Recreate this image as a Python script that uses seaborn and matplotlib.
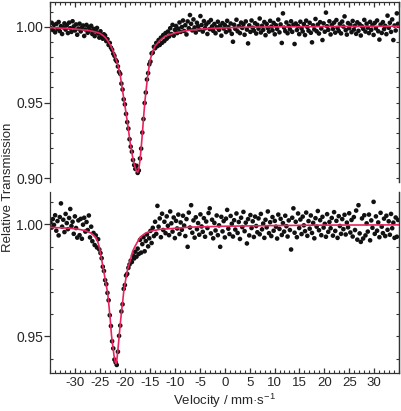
import numpy as np
import pandas as pd
import matplotlib
matplotlib.use("Agg")
import matplotlib.pyplot as plt
import seaborn as sns
from matplotlib.ticker import MultipleLocator, FixedLocator, FormatStrFormatter, NullFormatter

# ---------------- data ----------------
# channel velocities (mm/s), equally spaced channels
n_channels = 300
v_start, v_end = -35.0, 34.8

# top spectrum: measured relative transmission per channel
top_T = [
    0.9992, 1.0026, 0.9978, 1.0012, 0.9963, 1.0018, 0.9985, 1.0031, 0.9971, 1.0004,
    0.9952, 0.9996, 1.0022, 0.9981, 1.0009, 0.9958, 1.0027, 0.9990, 0.9966, 1.0036,
    1.0002, 0.9975, 1.0015, 0.9947, 0.9988, 1.0020, 0.9969, 0.9994, 1.0008, 0.9939,
    0.9982, 1.0012, 0.9960, 0.9996, 0.9975, 1.0006, 0.9952, 0.9986, 0.9938, 0.9969,
    0.9992, 0.9955, 0.9928, 0.9970, 0.9946, 0.9921, 0.9950,
    0.9942, 0.9905, 0.9918, 0.9880, 0.9893, 0.9862, 0.9848, 0.9822, 0.9808, 0.9782,
    0.9771, 0.9738, 0.9702, 0.9689, 0.9625, 0.9586, 0.9521, 0.9488, 0.9425, 0.9371,
    0.9328, 0.9258, 0.9209, 0.9176, 0.9121, 0.9088, 0.9062, 0.9083, 0.9036, 0.9052,
    0.9131, 0.9196, 0.9302, 0.9391, 0.9497, 0.9566, 0.9652, 0.9694, 0.9752, 0.9770,
    0.9824, 0.9829, 0.9868, 0.9858, 0.9893, 0.9872, 0.9912, 0.9880, 0.9928, 0.9894,
    0.9945, 0.9906, 0.9958, 0.9921,
    0.9968, 0.9935, 0.9990, 0.9952, 1.0012, 0.9941, 0.9979, 1.0005, 0.9958, 0.9987,
    1.0028, 0.9966, 0.9998, 1.0041, 0.9972, 1.0010, 0.9949, 1.0035, 0.9990, 1.0077,
    1.0019, 0.9976, 1.0048, 0.9995, 0.9962, 1.0026, 1.0003, 0.9981, 1.0070, 1.0011,
    0.9968, 1.0037, 0.9990, 1.0015, 0.9952, 1.0029, 0.9984, 1.0044, 1.0002, 0.9973,
    1.0018, 0.9957, 0.9996, 1.0033, 0.9979, 1.0008, 0.9941, 1.0024, 0.9988, 1.0012,
    0.9965, 1.0039, 0.9997, 0.9975, 1.0021, 0.9953, 0.9901, 1.0013, 0.9986, 1.0046,
    0.9970, 1.0004, 0.9958, 1.0027, 0.9992, 1.0016, 0.9947, 1.0035, 0.9981, 0.9890,
    1.0009, 0.9966, 1.0041, 0.9993, 0.9974, 1.0023, 0.9955, 1.0012, 0.9987, 1.0054,
    0.9962, 1.0006, 0.9979, 1.0031, 0.9944, 1.0018, 0.9991, 0.9968, 1.0039, 1.0001,
    0.9976, 1.0025, 0.9950, 1.0010, 0.9985, 1.0047, 0.9963, 1.0015, 0.9893, 1.0088,
    0.9994, 0.9971, 1.0028, 0.9957, 1.0006, 0.9983, 1.0036, 0.9966, 1.0013, 0.9886,
    1.0021, 0.9978, 1.0004, 0.9951, 1.0033, 0.9990, 0.9969, 1.0017, 0.9945, 1.0040,
    0.9998, 0.9974, 1.0026, 0.9960, 0.9897, 1.0009, 0.9982, 1.0051, 0.9970, 1.0014,
    0.9955, 1.0030, 0.9988, 0.9912, 1.0022, 0.9967, 1.0093, 1.0003, 0.9979, 1.0036,
    0.9949, 1.0011, 0.9985, 1.0027, 0.9961, 1.0044, 0.9992, 0.9972, 1.0019, 0.9956,
    1.0034, 1.0001, 1.0068, 0.9977, 0.9948, 1.0024, 0.9990, 1.0012, 0.9964, 1.0038,
    0.9981, 1.0007, 0.9953, 1.0029, 0.9973, 1.0016, 0.9942, 1.0003, 0.9986, 1.0045,
    0.9968, 1.0020, 0.9994, 0.9958, 1.0032, 0.9979, 1.0010, 0.9946, 1.0025, 0.9989,
    1.0041, 0.9970, 0.9915, 1.0014, 0.9959, 1.0030, 0.9984, 1.0006, 0.9951, 1.0073,
    0.9993, 1.0026, 0.9966, 1.0048, 0.9912, 1.0008, 0.9975, 1.0088, 1.0019,
]

# bottom spectrum: measured relative transmission per channel
bottom_T = [
    1.0008, 0.9986, 1.0024, 0.9998, 1.0041, 0.9972, 1.0015, 0.9951, 1.0033, 1.0094,
    0.9990, 1.0021, 0.9966, 1.0047, 1.0006, 0.9979, 1.0029, 1.0069, 0.9993, 1.0012,
    0.9958, 1.0036, 0.9984, 0.9941, 1.0018, 0.9952, 1.0025, 0.9936, 0.9999, 1.0030,
    0.9968, 1.0011, 0.9975, 1.0040,
    0.9942, 0.9990, 0.9925, 0.9962, 0.9908, 0.9951, 0.9897, 0.9934, 0.9888, 0.9872,
    0.9849, 0.9811, 0.9792, 0.9751, 0.9733, 0.9694, 0.9661, 0.9594, 0.9546, 0.9478,
    0.9446, 0.9396, 0.9384, 0.9372, 0.9431, 0.9502, 0.9548, 0.9611, 0.9643, 0.9712,
    0.9729, 0.9772, 0.9779, 0.9806, 0.9821, 0.9838, 0.9832, 0.9861, 0.9848, 0.9878,
    0.9856, 0.9892, 0.9868, 0.9931, 0.9874, 0.9912, 0.9943, 0.9880, 0.9926, 0.9955,
    0.9902, 0.9938, 0.9971, 0.9917, 0.9985, 0.9948, 1.0012,
    0.9958, 1.0083, 0.9990, 1.0027, 0.9943, 1.0048, 0.9975, 1.0012, 0.9961, 1.0036,
    0.9994, 0.9952, 1.0058, 1.0005, 0.9968, 1.0031, 0.9939, 1.0016, 0.9982, 1.0044,
    0.9957, 1.0009, 0.9976, 1.0039, 0.9995, 0.9948, 1.0024, 0.9900, 1.0053, 0.9986,
    1.0086, 0.9963, 1.0018, 0.9941, 1.0032, 0.9979, 1.0006, 0.9954, 1.0045, 0.9991,
    0.9967, 1.0028, 0.9945, 1.0013, 0.9984, 1.0051, 1.0072, 0.9960, 1.0021, 0.9938,
    1.0007, 0.9973, 1.0040, 0.9952, 0.9996, 0.9900, 1.0034, 0.9969, 1.0015, 0.9942,
    1.0026, 1.0065, 0.9981, 0.9957, 1.0038, 1.0003, 0.9946, 1.0019, 0.9977, 1.0049,
    0.9962, 1.0011, 0.9935, 1.0030, 0.9988, 1.0056, 0.9970, 1.0008, 0.9915, 1.0024,
    0.9951, 1.0042, 0.9984, 1.0014, 0.9944, 1.0035, 0.9993, 0.9965, 1.0027, 0.9956,
    1.0047, 0.9978, 1.0004, 0.9940, 1.0021, 0.9987, 1.0058, 0.9961, 1.0010, 0.9948,
    1.0033, 0.9972, 1.0016, 0.9990, 0.9937, 1.0044, 0.9980, 1.0025, 0.9953, 1.0006,
    0.9968, 1.0039, 0.9992, 0.9946, 1.0018, 0.9975, 0.9888, 1.0030, 1.0072, 0.9963,
    1.0012, 0.9943, 1.0049, 0.9984, 1.0022, 0.9957, 1.0035, 0.9996, 0.9970, 1.0053,
    0.9949, 1.0015, 0.9981, 1.0040, 0.9962, 1.0007, 0.9938, 1.0028, 0.9990, 1.0060,
    0.9974, 1.0019, 0.9952, 1.0034, 0.9986, 1.0003, 0.9945, 1.0046, 0.9967, 1.0011,
    0.9983, 1.0029, 0.9950, 1.0055, 0.9971, 1.0016, 0.9940, 1.0037, 0.9993, 0.9958,
    1.0024, 0.9979, 1.0043, 0.9955, 1.0008, 0.9987, 1.0050, 0.9964, 1.0020, 0.9946,
    1.0033, 0.9975, 1.0062, 0.9932, 1.0086, 0.9960, 0.9922, 1.0027, 0.9937, 1.0041,
    0.9951, 1.0005, 0.9968, 1.0044, 0.9929, 1.0018, 0.9985, 1.0101, 0.9958, 1.0036,
    0.9972, 1.0009, 0.9943, 1.0052, 0.9990, 0.9961, 1.0026, 0.9948, 1.0039, 0.9976,
    1.0014, 0.9954, 1.0047, 0.9983, 1.0008, 0.9940, 1.0031, 0.9945, 1.0020,
]

# fitted curves
top_fit_v = [-35.0, -32.0, -30.0, -28.0, -27.0, -26.0, -25.0, -24.5, -24.0, -23.5,
             -23.0, -22.5, -22.0, -21.5, -21.0, -20.5, -20.0, -19.5, -19.0, -18.5,
             -18.25, -18.0, -17.75, -17.5, -17.25, -17.0, -16.75, -16.5, -16.25, -16.0,
             -15.5, -15.0, -14.5, -14.0, -13.0, -12.0, -10.0, -8.0, -5.0, -2.0,
             3.0, 10.0, 20.0, 35.0]
top_fit_T = [0.9994, 0.9989, 0.9984, 0.9978, 0.9973, 0.9966, 0.9955, 0.9943, 0.9929, 0.9907,
             0.9880, 0.9845, 0.9800, 0.9752, 0.9682, 0.9573, 0.9468, 0.9358, 0.9235, 0.9140,
             0.9102, 0.9072, 0.9050, 0.9040, 0.9062, 0.9128, 0.9215, 0.9315, 0.9425, 0.9520,
             0.9670, 0.9778, 0.9836, 0.9872, 0.9911, 0.9937, 0.9959, 0.9973, 0.9984, 0.9990,
             0.9996, 0.9999, 1.0001, 1.0003]

bottom_fit_v = [-35.0, -31.0, -29.0, -28.0, -27.0, -26.5, -26.0, -25.5, -25.25, -25.0,
                -24.75, -24.5, -24.25, -24.0, -23.75, -23.5, -23.25, -23.0, -22.75, -22.5,
                -22.25, -22.0, -21.85, -21.7, -21.5, -21.25, -21.0, -20.75, -20.5, -20.25,
                -20.0, -19.75, -19.5, -19.0, -18.5, -18.0, -17.0, -16.0, -15.0, -13.0,
                -11.0, -7.0, 0.0, 10.0, 20.0, 35.0]
bottom_fit_T = [0.9987, 0.9983, 0.9977, 0.9972, 0.9963, 0.9955, 0.9944, 0.9922, 0.9903, 0.9875,
                0.9846, 0.9815, 0.9785, 0.9752, 0.9722, 0.9690, 0.9635, 0.9575, 0.9505, 0.9460,
                0.9415, 0.9385, 0.9378, 0.9388, 0.9430, 0.9490, 0.9552, 0.9607, 0.9655, 0.9708,
                0.9740, 0.9772, 0.9800, 0.9838, 0.9880, 0.9903, 0.9943, 0.9960, 0.9970, 0.9978,
                0.9981, 0.9988, 0.9992, 0.9995, 0.9997, 0.9998]

top_yticks = [0.90, 0.95, 1.00]
bottom_yticks = [0.95, 1.00]
xtick_step = 5

# ---------------- styling ----------------
sns.set_style("ticks")
plt.rcParams["font.family"] = ["Liberation Sans", "DejaVu Sans"]
plt.rcParams["mathtext.fontset"] = "custom"
plt.rcParams["mathtext.rm"] = "Liberation Sans"
plt.rcParams["mathtext.it"] = "Liberation Sans:italic"
plt.rcParams["axes.unicode_minus"] = False

FS = 10
FS_X = 9.5
DOT = "#111111"
LINE = "#e8245e"
SPINE = "#333333"

velocity = np.linspace(v_start, v_end, n_channels)
df_top = pd.DataFrame({"v": velocity, "T": top_T})
df_bot = pd.DataFrame({"v": velocity, "T": bottom_T})
fit_top = pd.DataFrame({"v": top_fit_v, "T": top_fit_T})
fit_bot = pd.DataFrame({"v": bottom_fit_v, "T": bottom_fit_T})

W, H = 402, 411
fig = plt.figure(figsize=(W / 100, H / 100), dpi=100)
ax_top = fig.add_axes([50 / W, 1 - 182 / H, 349 / W, 180 / H])
ax_bot = fig.add_axes([50 / W, 1 - 373 / H, 349 / W, 181 / H])

panels = [
    (ax_top, df_top, fit_top, (0.8976, 1.0163), top_yticks),
    (ax_bot, df_bot, fit_bot, (0.9336, 1.0145), bottom_yticks),
]

for ax, df, fit, ylim, yt in panels:
    sns.scatterplot(data=df, x="v", y="T", ax=ax, color=DOT, s=11, linewidth=0,
                    edgecolor="none", zorder=2, legend=False)
    sns.lineplot(data=fit, x="v", y="T", ax=ax, color=LINE, linewidth=1.2,
                 zorder=3, sort=False, estimator=None)
    ax.set_xlim(-35.1, 35.0)
    ax.set_ylim(*ylim)
    ax.set_xlabel("")
    ax.set_ylabel("")
    for s in ax.spines.values():
        s.set_color(SPINE)
        s.set_linewidth(0.9)
    ax.xaxis.set_major_locator(MultipleLocator(xtick_step))
    ax.xaxis.set_minor_locator(MultipleLocator(1))
    ax.yaxis.set_major_locator(FixedLocator(yt))
    ax.yaxis.set_minor_locator(MultipleLocator(0.01))
    ax.yaxis.set_major_formatter(FormatStrFormatter("%.2f"))
    ax.tick_params(axis="y", which="major", direction="out", length=4, width=0.9,
                   color=SPINE, labelsize=FS, pad=1, right=False)
    ax.tick_params(axis="y", which="minor", direction="in", length=2.5, width=0.8,
                   color=SPINE, right=False)
    # right-hand inward ticks at every 0.01
    sec = ax.secondary_yaxis("right")
    sec.yaxis.set_major_locator(MultipleLocator(0.01))
    sec.yaxis.set_major_formatter(NullFormatter())
    sec.tick_params(axis="y", which="major", direction="in", length=2.5, width=0.8, color=SPINE)
    sec.spines["right"].set_color(SPINE)
    sec.spines["right"].set_linewidth(0.9)

# top panel: open bottom, ticks along top
ax_top.spines["bottom"].set_visible(False)
ax_top.tick_params(axis="x", which="both", bottom=False, top=True, labelbottom=False,
                   direction="in", color=SPINE)
ax_top.tick_params(axis="x", which="major", length=3.5, width=0.9)
ax_top.tick_params(axis="x", which="minor", length=2, width=0.8)

# bottom panel: open top, labelled velocity axis
ax_bot.spines["top"].set_visible(False)
ax_bot.tick_params(axis="x", which="both", bottom=True, top=False, direction="in",
                   color=SPINE)
ax_bot.tick_params(axis="x", which="major", length=3.5, width=0.9, labelsize=FS_X, pad=3)
ax_bot.tick_params(axis="x", which="minor", length=2, width=0.8)
ax_bot.xaxis.set_major_formatter(FormatStrFormatter("%d"))
ax_bot.set_xticks(np.arange(-30, 31, xtick_step))

fig.text(224.5 / W, 1 - 401 / H, r"Velocity / mm·s$^{\mathregular{-1}}$",
         ha="center", va="center", fontsize=FS_X)
fig.text(8 / W, 1 - 187 / H, "Relative Transmission", rotation=90,
         ha="center", va="center", fontsize=9.5)

fig.savefig("out.png", dpi=100)
